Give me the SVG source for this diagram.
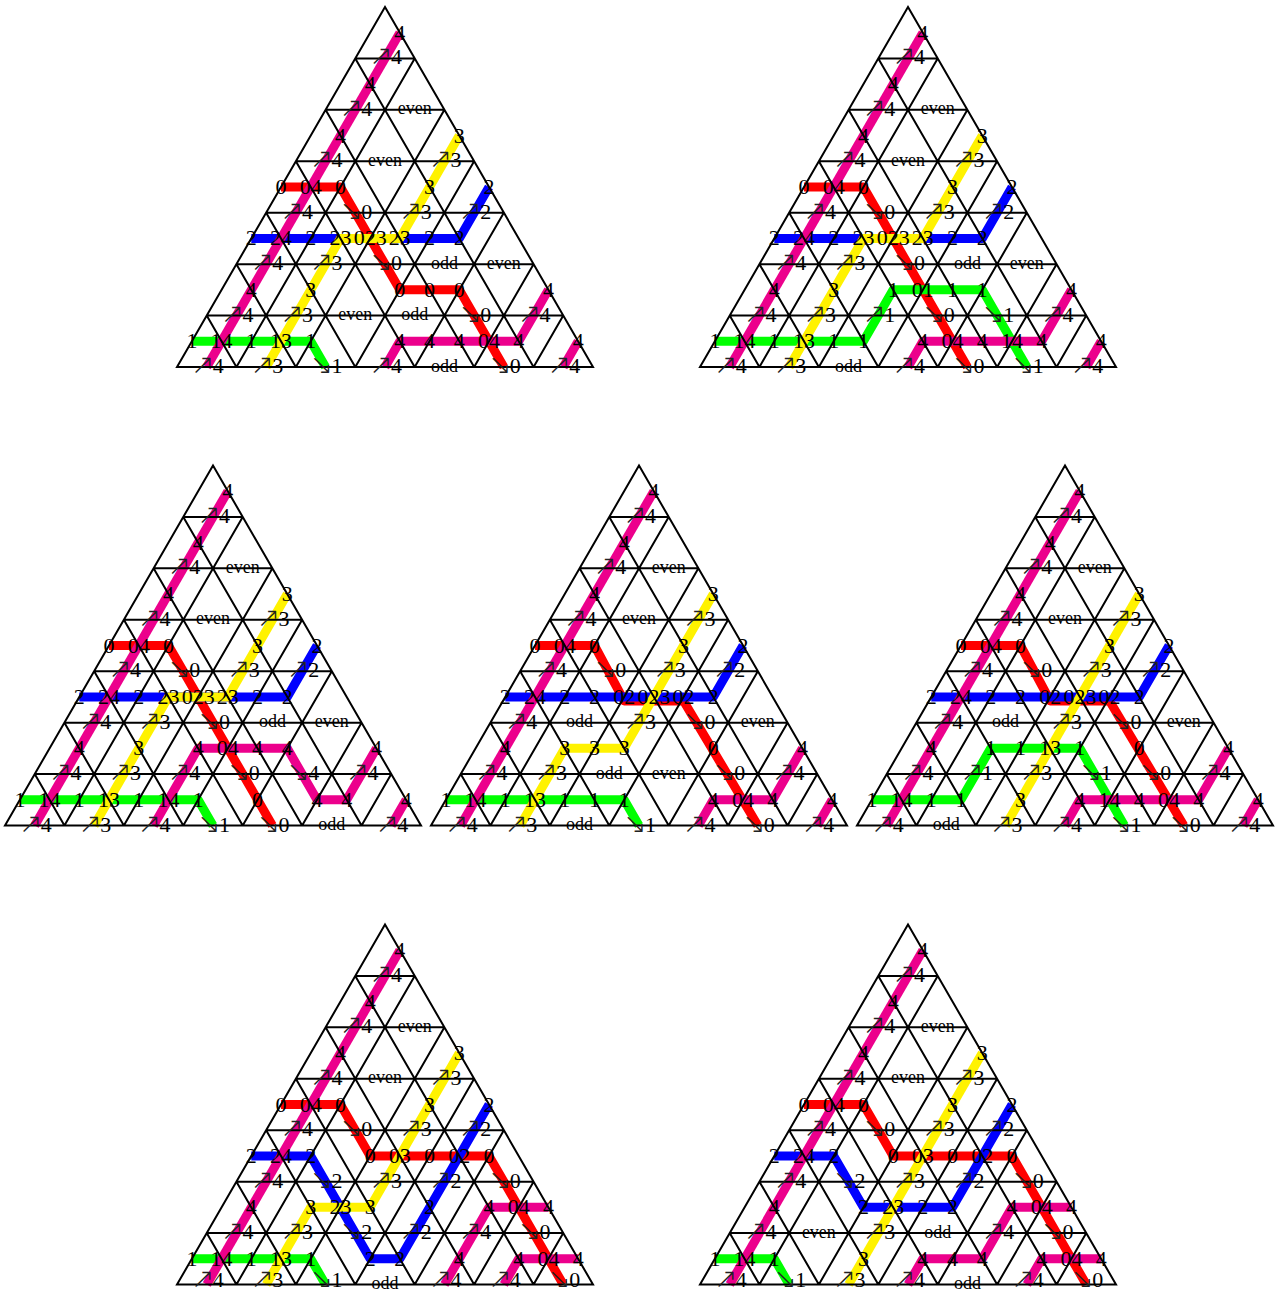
<svg xmlns="http://www.w3.org/2000/svg" xmlns:xlink="http://www.w3.org/1999/xlink" width="1279" height="1295" viewBox="0 0 1279 1295">
<style>
.g{fill:none;stroke:#000;stroke-width:2}
.p{fill:none;stroke-width:9;stroke-linejoin:round;stroke-linecap:butt}
.c0{stroke:#FF0000}.c1{stroke:#00FF00}.c2{stroke:#0000FF}.c3{stroke:#FFF200}.c4{stroke:#EC008C}
text{font-family:"Liberation Serif",serif;fill:#000}
.n{font-size:22px;text-anchor:middle}
.w{font-size:18px;text-anchor:middle}
.a{font-family:"DejaVu Sans",sans-serif;font-weight:200;font-size:28px;fill:#222;baseline-shift:-1px}
</style>
<defs>
<path id="grid" class="g" d="M-208 360L0 0L208 360Z M-29.71 51.43H29.71M-59.43 102.86H59.43M-89.14 154.29H89.14M-118.86 205.71H118.86M-148.57 257.14H148.57M-178.29 308.57H178.29 M29.71 51.43L-148.57 360M59.43 102.86L-89.14 360M89.14 154.29L-29.71 360M118.86 205.71L29.71 360M148.57 257.14L89.14 360M178.29 308.57L148.57 360 M-29.71 51.43L148.57 360M-59.43 102.86L89.14 360M-89.14 154.29L29.71 360M-118.86 205.71L-29.71 360M-148.57 257.14L-89.14 360M-178.29 308.57L-148.57 360"/>
</defs>

<!-- Triangle 1 -->
<g id="tri1" transform="translate(385,7)">
<g id="tri1-paths">
<polyline class="p c0" points="-104,180 -44.57,180 14.86,282.86 74.29,282.86 118.86,360"/>
<polyline class="p c1" points="-193.14,334.29 -74.29,334.29 -59.43,360"/>
<polyline class="p c2" points="104,180 74.29,231.43 -133.71,231.43"/>
<polyline class="p c3" points="74.29,128.57 14.86,231.43 -44.57,231.43 -118.86,360"/>
<polyline class="p c4" points="14.86,25.71 -178.29,360"/>
<polyline class="p c4" points="163.43,282.86 133.71,334.29 14.86,334.29 0,360"/>
<polyline class="p c4" points="193.14,334.29 178.29,360"/>
</g>
<use href="#grid"/>
<g id="tri1-labels">
<text class="n" x="14.86" y="32.71">4</text>
<text class="n" y="57.43"><tspan class="a" x="-4">↗</tspan><tspan x="11.5">4</tspan></text>
<text class="n" x="-14.86" y="84.14">4</text>
<text class="n" y="108.86"><tspan class="a" x="-33.71">↗</tspan><tspan x="-18.21">4</tspan></text>
<text class="w" x="29.71" y="107.36">even</text>
<text class="n" x="-44.57" y="135.57">4</text>
<text class="n" x="74.29" y="135.57">3</text>
<text class="n" y="160.29"><tspan class="a" x="-63.43">↗</tspan><tspan x="-47.93">4</tspan></text>
<text class="w" x="0" y="158.79">even</text>
<text class="n" y="160.29"><tspan class="a" x="55.43">↗</tspan><tspan x="70.93">3</tspan></text>
<text class="n" x="-104" y="187">0</text>
<text class="n" x="-74.29" y="187">04</text>
<text class="n" x="-44.57" y="187">0</text>
<text class="n" x="44.57" y="187">3</text>
<text class="n" x="104" y="187">2</text>
<text class="n" y="211.71"><tspan class="a" x="-93.14">↗</tspan><tspan x="-77.64">4</tspan></text>
<text class="n" y="211.71"><tspan class="a" x="-33.71">↘</tspan><tspan x="-18.21">0</tspan></text>
<text class="n" y="211.71"><tspan class="a" x="25.71">↗</tspan><tspan x="41.21">3</tspan></text>
<text class="n" y="211.71"><tspan class="a" x="85.14">↗</tspan><tspan x="100.64">2</tspan></text>
<text class="n" x="-133.71" y="238.43">2</text>
<text class="n" x="-104" y="238.43">24</text>
<text class="n" x="-74.29" y="238.43">2</text>
<text class="n" x="-44.57" y="238.43">23</text>
<text class="n" x="-14.86" y="238.43">023</text>
<text class="n" x="14.86" y="238.43">23</text>
<text class="n" x="44.57" y="238.43">2</text>
<text class="n" x="74.29" y="238.43">2</text>
<text class="n" y="263.14"><tspan class="a" x="-122.86">↗</tspan><tspan x="-107.36">4</tspan></text>
<text class="n" y="263.14"><tspan class="a" x="-63.43">↗</tspan><tspan x="-47.93">3</tspan></text>
<text class="n" y="263.14"><tspan class="a" x="-4">↘</tspan><tspan x="11.5">0</tspan></text>
<text class="w" x="59.43" y="261.64">odd</text>
<text class="w" x="118.86" y="261.64">even</text>
<text class="n" x="-133.71" y="289.86">4</text>
<text class="n" x="-74.29" y="289.86">3</text>
<text class="n" x="14.86" y="289.86">0</text>
<text class="n" x="44.57" y="289.86">0</text>
<text class="n" x="74.29" y="289.86">0</text>
<text class="n" x="163.43" y="289.86">4</text>
<text class="n" y="314.57"><tspan class="a" x="-152.57">↗</tspan><tspan x="-137.07">4</tspan></text>
<text class="n" y="314.57"><tspan class="a" x="-93.14">↗</tspan><tspan x="-77.64">3</tspan></text>
<text class="w" x="-29.71" y="313.07">even</text>
<text class="w" x="29.71" y="313.07">odd</text>
<text class="n" y="314.57"><tspan class="a" x="85.14">↘</tspan><tspan x="100.64">0</tspan></text>
<text class="n" y="314.57"><tspan class="a" x="144.57">↗</tspan><tspan x="160.07">4</tspan></text>
<text class="n" x="-193.14" y="341.29">1</text>
<text class="n" x="-163.43" y="341.29">14</text>
<text class="n" x="-133.71" y="341.29">1</text>
<text class="n" x="-104" y="341.29">13</text>
<text class="n" x="-74.29" y="341.29">1</text>
<text class="n" x="14.86" y="341.29">4</text>
<text class="n" x="44.57" y="341.29">4</text>
<text class="n" x="74.29" y="341.29">4</text>
<text class="n" x="104" y="341.29">04</text>
<text class="n" x="133.71" y="341.29">4</text>
<text class="n" x="193.14" y="341.29">4</text>
<text class="n" y="366"><tspan class="a" x="-182.29">↗</tspan><tspan x="-166.79">4</tspan></text>
<text class="n" y="366"><tspan class="a" x="-122.86">↗</tspan><tspan x="-107.36">3</tspan></text>
<text class="n" y="366"><tspan class="a" x="-63.43">↘</tspan><tspan x="-47.93">1</tspan></text>
<text class="n" y="366"><tspan class="a" x="-4">↗</tspan><tspan x="11.5">4</tspan></text>
<text class="w" x="59.43" y="364.5">odd</text>
<text class="n" y="366"><tspan class="a" x="114.86">↘</tspan><tspan x="130.36">0</tspan></text>
<text class="n" y="366"><tspan class="a" x="174.29">↗</tspan><tspan x="189.79">4</tspan></text>
</g>
</g>

<!-- Triangle 2 -->
<g id="tri2" transform="translate(908,7)">
<g id="tri2-paths">
<polyline class="p c0" points="-104,180 -44.57,180 59.43,360"/>
<polyline class="p c1" points="-193.14,334.29 -44.57,334.29 -14.86,282.86 74.29,282.86 118.86,360"/>
<polyline class="p c2" points="104,180 74.29,231.43 -133.71,231.43"/>
<polyline class="p c3" points="74.29,128.57 14.86,231.43 -44.57,231.43 -118.86,360"/>
<polyline class="p c4" points="14.86,25.71 -178.29,360"/>
<polyline class="p c4" points="163.43,282.86 133.71,334.29 14.86,334.29 0,360"/>
<polyline class="p c4" points="193.14,334.29 178.29,360"/>
</g>
<use href="#grid"/>
<g id="tri2-labels">
<text class="n" x="14.86" y="32.71">4</text>
<text class="n" y="57.43"><tspan class="a" x="-4">↗</tspan><tspan x="11.5">4</tspan></text>
<text class="n" x="-14.86" y="84.14">4</text>
<text class="n" y="108.86"><tspan class="a" x="-33.71">↗</tspan><tspan x="-18.21">4</tspan></text>
<text class="w" x="29.71" y="107.36">even</text>
<text class="n" x="-44.57" y="135.57">4</text>
<text class="n" x="74.29" y="135.57">3</text>
<text class="n" y="160.29"><tspan class="a" x="-63.43">↗</tspan><tspan x="-47.93">4</tspan></text>
<text class="w" x="0" y="158.79">even</text>
<text class="n" y="160.29"><tspan class="a" x="55.43">↗</tspan><tspan x="70.93">3</tspan></text>
<text class="n" x="-104" y="187">0</text>
<text class="n" x="-74.29" y="187">04</text>
<text class="n" x="-44.57" y="187">0</text>
<text class="n" x="44.57" y="187">3</text>
<text class="n" x="104" y="187">2</text>
<text class="n" y="211.71"><tspan class="a" x="-93.14">↗</tspan><tspan x="-77.64">4</tspan></text>
<text class="n" y="211.71"><tspan class="a" x="-33.71">↘</tspan><tspan x="-18.21">0</tspan></text>
<text class="n" y="211.71"><tspan class="a" x="25.71">↗</tspan><tspan x="41.21">3</tspan></text>
<text class="n" y="211.71"><tspan class="a" x="85.14">↗</tspan><tspan x="100.64">2</tspan></text>
<text class="n" x="-133.71" y="238.43">2</text>
<text class="n" x="-104" y="238.43">24</text>
<text class="n" x="-74.29" y="238.43">2</text>
<text class="n" x="-44.57" y="238.43">23</text>
<text class="n" x="-14.86" y="238.43">023</text>
<text class="n" x="14.86" y="238.43">23</text>
<text class="n" x="44.57" y="238.43">2</text>
<text class="n" x="74.29" y="238.43">2</text>
<text class="n" y="263.14"><tspan class="a" x="-122.86">↗</tspan><tspan x="-107.36">4</tspan></text>
<text class="n" y="263.14"><tspan class="a" x="-63.43">↗</tspan><tspan x="-47.93">3</tspan></text>
<text class="n" y="263.14"><tspan class="a" x="-4">↘</tspan><tspan x="11.5">0</tspan></text>
<text class="w" x="59.43" y="261.64">odd</text>
<text class="w" x="118.86" y="261.64">even</text>
<text class="n" x="-133.71" y="289.86">4</text>
<text class="n" x="-74.29" y="289.86">3</text>
<text class="n" x="-14.86" y="289.86">1</text>
<text class="n" x="14.86" y="289.86">01</text>
<text class="n" x="44.57" y="289.86">1</text>
<text class="n" x="74.29" y="289.86">1</text>
<text class="n" x="163.43" y="289.86">4</text>
<text class="n" y="314.57"><tspan class="a" x="-152.57">↗</tspan><tspan x="-137.07">4</tspan></text>
<text class="n" y="314.57"><tspan class="a" x="-93.14">↗</tspan><tspan x="-77.64">3</tspan></text>
<text class="n" y="314.57"><tspan class="a" x="-33.71">↗</tspan><tspan x="-18.21">1</tspan></text>
<text class="n" y="314.57"><tspan class="a" x="25.71">↘</tspan><tspan x="41.21">0</tspan></text>
<text class="n" y="314.57"><tspan class="a" x="85.14">↘</tspan><tspan x="100.64">1</tspan></text>
<text class="n" y="314.57"><tspan class="a" x="144.57">↗</tspan><tspan x="160.07">4</tspan></text>
<text class="n" x="-193.14" y="341.29">1</text>
<text class="n" x="-163.43" y="341.29">14</text>
<text class="n" x="-133.71" y="341.29">1</text>
<text class="n" x="-104" y="341.29">13</text>
<text class="n" x="-74.29" y="341.29">1</text>
<text class="n" x="-44.57" y="341.29">1</text>
<text class="n" x="14.86" y="341.29">4</text>
<text class="n" x="44.57" y="341.29">04</text>
<text class="n" x="74.29" y="341.29">4</text>
<text class="n" x="104" y="341.29">14</text>
<text class="n" x="133.71" y="341.29">4</text>
<text class="n" x="193.14" y="341.29">4</text>
<text class="n" y="366"><tspan class="a" x="-182.29">↗</tspan><tspan x="-166.79">4</tspan></text>
<text class="n" y="366"><tspan class="a" x="-122.86">↗</tspan><tspan x="-107.36">3</tspan></text>
<text class="w" x="-59.43" y="364.5">odd</text>
<text class="n" y="366"><tspan class="a" x="-4">↗</tspan><tspan x="11.5">4</tspan></text>
<text class="n" y="366"><tspan class="a" x="55.43">↘</tspan><tspan x="70.93">0</tspan></text>
<text class="n" y="366"><tspan class="a" x="114.86">↘</tspan><tspan x="130.36">1</tspan></text>
<text class="n" y="366"><tspan class="a" x="174.29">↗</tspan><tspan x="189.79">4</tspan></text>
</g>
</g>

<!-- Triangle 3 -->
<g id="tri3" transform="translate(213,465.5)">
<g id="tri3-paths">
<polyline class="p c0" points="-104,180 -44.57,180 59.43,360"/>
<polyline class="p c1" points="-193.14,334.29 -14.86,334.29 0,360"/>
<polyline class="p c2" points="104,180 74.29,231.43 -133.71,231.43"/>
<polyline class="p c3" points="74.29,128.57 14.86,231.43 -44.57,231.43 -118.86,360"/>
<polyline class="p c4" points="14.86,25.71 -178.29,360"/>
<polyline class="p c4" points="-59.43,360 -14.86,282.86 74.29,282.86 104,334.29 133.71,334.29 163.43,282.86"/>
<polyline class="p c4" points="193.14,334.29 178.29,360"/>
</g>
<use href="#grid"/>
<g id="tri3-labels">
<text class="n" x="14.86" y="32.71">4</text>
<text class="n" y="57.43"><tspan class="a" x="-4">↗</tspan><tspan x="11.5">4</tspan></text>
<text class="n" x="-14.86" y="84.14">4</text>
<text class="n" y="108.86"><tspan class="a" x="-33.71">↗</tspan><tspan x="-18.21">4</tspan></text>
<text class="w" x="29.71" y="107.36">even</text>
<text class="n" x="-44.57" y="135.57">4</text>
<text class="n" x="74.29" y="135.57">3</text>
<text class="n" y="160.29"><tspan class="a" x="-63.43">↗</tspan><tspan x="-47.93">4</tspan></text>
<text class="w" x="0" y="158.79">even</text>
<text class="n" y="160.29"><tspan class="a" x="55.43">↗</tspan><tspan x="70.93">3</tspan></text>
<text class="n" x="-104" y="187">0</text>
<text class="n" x="-74.29" y="187">04</text>
<text class="n" x="-44.57" y="187">0</text>
<text class="n" x="44.57" y="187">3</text>
<text class="n" x="104" y="187">2</text>
<text class="n" y="211.71"><tspan class="a" x="-93.14">↗</tspan><tspan x="-77.64">4</tspan></text>
<text class="n" y="211.71"><tspan class="a" x="-33.71">↘</tspan><tspan x="-18.21">0</tspan></text>
<text class="n" y="211.71"><tspan class="a" x="25.71">↗</tspan><tspan x="41.21">3</tspan></text>
<text class="n" y="211.71"><tspan class="a" x="85.14">↗</tspan><tspan x="100.64">2</tspan></text>
<text class="n" x="-133.71" y="238.43">2</text>
<text class="n" x="-104" y="238.43">24</text>
<text class="n" x="-74.29" y="238.43">2</text>
<text class="n" x="-44.57" y="238.43">23</text>
<text class="n" x="-14.86" y="238.43">023</text>
<text class="n" x="14.86" y="238.43">23</text>
<text class="n" x="44.57" y="238.43">2</text>
<text class="n" x="74.29" y="238.43">2</text>
<text class="n" y="263.14"><tspan class="a" x="-122.86">↗</tspan><tspan x="-107.36">4</tspan></text>
<text class="n" y="263.14"><tspan class="a" x="-63.43">↗</tspan><tspan x="-47.93">3</tspan></text>
<text class="n" y="263.14"><tspan class="a" x="-4">↘</tspan><tspan x="11.5">0</tspan></text>
<text class="w" x="59.43" y="261.64">odd</text>
<text class="w" x="118.86" y="261.64">even</text>
<text class="n" x="-133.71" y="289.86">4</text>
<text class="n" x="-74.29" y="289.86">3</text>
<text class="n" x="-14.86" y="289.86">4</text>
<text class="n" x="14.86" y="289.86">04</text>
<text class="n" x="44.57" y="289.86">4</text>
<text class="n" x="74.29" y="289.86">4</text>
<text class="n" x="163.43" y="289.86">4</text>
<text class="n" y="314.57"><tspan class="a" x="-152.57">↗</tspan><tspan x="-137.07">4</tspan></text>
<text class="n" y="314.57"><tspan class="a" x="-93.14">↗</tspan><tspan x="-77.64">3</tspan></text>
<text class="n" y="314.57"><tspan class="a" x="-33.71">↗</tspan><tspan x="-18.21">4</tspan></text>
<text class="n" y="314.57"><tspan class="a" x="25.71">↘</tspan><tspan x="41.21">0</tspan></text>
<text class="n" y="314.57"><tspan class="a" x="85.14">↘</tspan><tspan x="100.64">4</tspan></text>
<text class="n" y="314.57"><tspan class="a" x="144.57">↗</tspan><tspan x="160.07">4</tspan></text>
<text class="n" x="-193.14" y="341.29">1</text>
<text class="n" x="-163.43" y="341.29">14</text>
<text class="n" x="-133.71" y="341.29">1</text>
<text class="n" x="-104" y="341.29">13</text>
<text class="n" x="-74.29" y="341.29">1</text>
<text class="n" x="-44.57" y="341.29">14</text>
<text class="n" x="-14.86" y="341.29">1</text>
<text class="n" x="44.57" y="341.29">0</text>
<text class="n" x="104" y="341.29">4</text>
<text class="n" x="133.71" y="341.29">4</text>
<text class="n" x="193.14" y="341.29">4</text>
<text class="n" y="366"><tspan class="a" x="-182.29">↗</tspan><tspan x="-166.79">4</tspan></text>
<text class="n" y="366"><tspan class="a" x="-122.86">↗</tspan><tspan x="-107.36">3</tspan></text>
<text class="n" y="366"><tspan class="a" x="-63.43">↗</tspan><tspan x="-47.93">4</tspan></text>
<text class="n" y="366"><tspan class="a" x="-4">↘</tspan><tspan x="11.5">1</tspan></text>
<text class="n" y="366"><tspan class="a" x="55.43">↘</tspan><tspan x="70.93">0</tspan></text>
<text class="w" x="118.86" y="364.5">odd</text>
<text class="n" y="366"><tspan class="a" x="174.29">↗</tspan><tspan x="189.79">4</tspan></text>
</g>
</g>

<!-- Triangle 4 -->
<g id="tri4" transform="translate(639,465.5)">
<g id="tri4-paths">
<polyline class="p c0" points="-104,180 -44.57,180 -14.86,235.43 44.57,235.43 118.86,360"/>
<polyline class="p c1" points="-193.14,334.29 -14.86,334.29 0,360"/>
<polyline class="p c2" points="104,180 74.29,231.43 -133.71,231.43"/>
<polyline class="p c3" points="74.29,128.57 -14.86,282.86 -74.29,282.86 -118.86,360"/>
<polyline class="p c4" points="14.86,25.71 -178.29,360"/>
<polyline class="p c4" points="163.43,282.86 133.71,334.29 74.29,334.29 59.43,360"/>
<polyline class="p c4" points="193.14,334.29 178.29,360"/>
</g>
<use href="#grid"/>
<g id="tri4-labels">
<text class="n" x="14.86" y="32.71">4</text>
<text class="n" y="57.43"><tspan class="a" x="-4">↗</tspan><tspan x="11.5">4</tspan></text>
<text class="n" x="-14.86" y="84.14">4</text>
<text class="n" y="108.86"><tspan class="a" x="-33.71">↗</tspan><tspan x="-18.21">4</tspan></text>
<text class="w" x="29.71" y="107.36">even</text>
<text class="n" x="-44.57" y="135.57">4</text>
<text class="n" x="74.29" y="135.57">3</text>
<text class="n" y="160.29"><tspan class="a" x="-63.43">↗</tspan><tspan x="-47.93">4</tspan></text>
<text class="w" x="0" y="158.79">even</text>
<text class="n" y="160.29"><tspan class="a" x="55.43">↗</tspan><tspan x="70.93">3</tspan></text>
<text class="n" x="-104" y="187">0</text>
<text class="n" x="-74.29" y="187">04</text>
<text class="n" x="-44.57" y="187">0</text>
<text class="n" x="44.57" y="187">3</text>
<text class="n" x="104" y="187">2</text>
<text class="n" y="211.71"><tspan class="a" x="-93.14">↗</tspan><tspan x="-77.64">4</tspan></text>
<text class="n" y="211.71"><tspan class="a" x="-33.71">↘</tspan><tspan x="-18.21">0</tspan></text>
<text class="n" y="211.71"><tspan class="a" x="25.71">↗</tspan><tspan x="41.21">3</tspan></text>
<text class="n" y="211.71"><tspan class="a" x="85.14">↗</tspan><tspan x="100.64">2</tspan></text>
<text class="n" x="-133.71" y="238.43">2</text>
<text class="n" x="-104" y="238.43">24</text>
<text class="n" x="-74.29" y="238.43">2</text>
<text class="n" x="-44.57" y="238.43">2</text>
<text class="n" x="-14.86" y="238.43">02</text>
<text class="n" x="14.86" y="238.43">023</text>
<text class="n" x="44.57" y="238.43">02</text>
<text class="n" x="74.29" y="238.43">2</text>
<text class="n" y="263.14"><tspan class="a" x="-122.86">↗</tspan><tspan x="-107.36">4</tspan></text>
<text class="w" x="-59.43" y="261.64">odd</text>
<text class="n" y="263.14"><tspan class="a" x="-4">↗</tspan><tspan x="11.5">3</tspan></text>
<text class="n" y="263.14"><tspan class="a" x="55.43">↘</tspan><tspan x="70.93">0</tspan></text>
<text class="w" x="118.86" y="261.64">even</text>
<text class="n" x="-133.71" y="289.86">4</text>
<text class="n" x="-74.29" y="289.86">3</text>
<text class="n" x="-44.57" y="289.86">3</text>
<text class="n" x="-14.86" y="289.86">3</text>
<text class="n" x="74.29" y="289.86">0</text>
<text class="n" x="163.43" y="289.86">4</text>
<text class="n" y="314.57"><tspan class="a" x="-152.57">↗</tspan><tspan x="-137.07">4</tspan></text>
<text class="n" y="314.57"><tspan class="a" x="-93.14">↗</tspan><tspan x="-77.64">3</tspan></text>
<text class="w" x="-29.71" y="313.07">odd</text>
<text class="w" x="29.71" y="313.07">even</text>
<text class="n" y="314.57"><tspan class="a" x="85.14">↘</tspan><tspan x="100.64">0</tspan></text>
<text class="n" y="314.57"><tspan class="a" x="144.57">↗</tspan><tspan x="160.07">4</tspan></text>
<text class="n" x="-193.14" y="341.29">1</text>
<text class="n" x="-163.43" y="341.29">14</text>
<text class="n" x="-133.71" y="341.29">1</text>
<text class="n" x="-104" y="341.29">13</text>
<text class="n" x="-74.29" y="341.29">1</text>
<text class="n" x="-44.57" y="341.29">1</text>
<text class="n" x="-14.86" y="341.29">1</text>
<text class="n" x="74.29" y="341.29">4</text>
<text class="n" x="104" y="341.29">04</text>
<text class="n" x="133.71" y="341.29">4</text>
<text class="n" x="193.14" y="341.29">4</text>
<text class="n" y="366"><tspan class="a" x="-182.29">↗</tspan><tspan x="-166.79">4</tspan></text>
<text class="n" y="366"><tspan class="a" x="-122.86">↗</tspan><tspan x="-107.36">3</tspan></text>
<text class="w" x="-59.43" y="364.5">odd</text>
<text class="n" y="366"><tspan class="a" x="-4">↘</tspan><tspan x="11.5">1</tspan></text>
<text class="n" y="366"><tspan class="a" x="55.43">↗</tspan><tspan x="70.93">4</tspan></text>
<text class="n" y="366"><tspan class="a" x="114.86">↘</tspan><tspan x="130.36">0</tspan></text>
<text class="n" y="366"><tspan class="a" x="174.29">↗</tspan><tspan x="189.79">4</tspan></text>
</g>
</g>

<!-- Triangle 5 -->
<g id="tri5" transform="translate(1065,465.5)">
<g id="tri5-paths">
<polyline class="p c0" points="-104,180 -44.57,180 -14.86,235.43 44.57,235.43 118.86,360"/>
<polyline class="p c1" points="-193.14,334.29 -104,334.29 -74.29,282.86 14.86,282.86 59.43,360"/>
<polyline class="p c2" points="104,180 74.29,231.43 -133.71,231.43"/>
<polyline class="p c3" points="74.29,128.57 -59.43,360"/>
<polyline class="p c4" points="14.86,25.71 -178.29,360"/>
<polyline class="p c4" points="163.43,282.86 133.71,334.29 14.86,334.29 0,360"/>
<polyline class="p c4" points="193.14,334.29 178.29,360"/>
</g>
<use href="#grid"/>
<g id="tri5-labels">
<text class="n" x="14.86" y="32.71">4</text>
<text class="n" y="57.43"><tspan class="a" x="-4">↗</tspan><tspan x="11.5">4</tspan></text>
<text class="n" x="-14.86" y="84.14">4</text>
<text class="n" y="108.86"><tspan class="a" x="-33.71">↗</tspan><tspan x="-18.21">4</tspan></text>
<text class="w" x="29.71" y="107.36">even</text>
<text class="n" x="-44.57" y="135.57">4</text>
<text class="n" x="74.29" y="135.57">3</text>
<text class="n" y="160.29"><tspan class="a" x="-63.43">↗</tspan><tspan x="-47.93">4</tspan></text>
<text class="w" x="0" y="158.79">even</text>
<text class="n" y="160.29"><tspan class="a" x="55.43">↗</tspan><tspan x="70.93">3</tspan></text>
<text class="n" x="-104" y="187">0</text>
<text class="n" x="-74.29" y="187">04</text>
<text class="n" x="-44.57" y="187">0</text>
<text class="n" x="44.57" y="187">3</text>
<text class="n" x="104" y="187">2</text>
<text class="n" y="211.71"><tspan class="a" x="-93.14">↗</tspan><tspan x="-77.64">4</tspan></text>
<text class="n" y="211.71"><tspan class="a" x="-33.71">↘</tspan><tspan x="-18.21">0</tspan></text>
<text class="n" y="211.71"><tspan class="a" x="25.71">↗</tspan><tspan x="41.21">3</tspan></text>
<text class="n" y="211.71"><tspan class="a" x="85.14">↗</tspan><tspan x="100.64">2</tspan></text>
<text class="n" x="-133.71" y="238.43">2</text>
<text class="n" x="-104" y="238.43">24</text>
<text class="n" x="-74.29" y="238.43">2</text>
<text class="n" x="-44.57" y="238.43">2</text>
<text class="n" x="-14.86" y="238.43">02</text>
<text class="n" x="14.86" y="238.43">023</text>
<text class="n" x="44.57" y="238.43">02</text>
<text class="n" x="74.29" y="238.43">2</text>
<text class="n" y="263.14"><tspan class="a" x="-122.86">↗</tspan><tspan x="-107.36">4</tspan></text>
<text class="w" x="-59.43" y="261.64">odd</text>
<text class="n" y="263.14"><tspan class="a" x="-4">↗</tspan><tspan x="11.5">3</tspan></text>
<text class="n" y="263.14"><tspan class="a" x="55.43">↘</tspan><tspan x="70.93">0</tspan></text>
<text class="w" x="118.86" y="261.64">even</text>
<text class="n" x="-133.71" y="289.86">4</text>
<text class="n" x="-74.29" y="289.86">1</text>
<text class="n" x="-44.57" y="289.86">1</text>
<text class="n" x="-14.86" y="289.86">13</text>
<text class="n" x="14.86" y="289.86">1</text>
<text class="n" x="74.29" y="289.86">0</text>
<text class="n" x="163.43" y="289.86">4</text>
<text class="n" y="314.57"><tspan class="a" x="-152.57">↗</tspan><tspan x="-137.07">4</tspan></text>
<text class="n" y="314.57"><tspan class="a" x="-93.14">↗</tspan><tspan x="-77.64">1</tspan></text>
<text class="n" y="314.57"><tspan class="a" x="-33.71">↗</tspan><tspan x="-18.21">3</tspan></text>
<text class="n" y="314.57"><tspan class="a" x="25.71">↘</tspan><tspan x="41.21">1</tspan></text>
<text class="n" y="314.57"><tspan class="a" x="85.14">↘</tspan><tspan x="100.64">0</tspan></text>
<text class="n" y="314.57"><tspan class="a" x="144.57">↗</tspan><tspan x="160.07">4</tspan></text>
<text class="n" x="-193.14" y="341.29">1</text>
<text class="n" x="-163.43" y="341.29">14</text>
<text class="n" x="-133.71" y="341.29">1</text>
<text class="n" x="-104" y="341.29">1</text>
<text class="n" x="-44.57" y="341.29">3</text>
<text class="n" x="14.86" y="341.29">4</text>
<text class="n" x="44.57" y="341.29">14</text>
<text class="n" x="74.29" y="341.29">4</text>
<text class="n" x="104" y="341.29">04</text>
<text class="n" x="133.71" y="341.29">4</text>
<text class="n" x="193.14" y="341.29">4</text>
<text class="n" y="366"><tspan class="a" x="-182.29">↗</tspan><tspan x="-166.79">4</tspan></text>
<text class="w" x="-118.86" y="364.5">odd</text>
<text class="n" y="366"><tspan class="a" x="-63.43">↗</tspan><tspan x="-47.93">3</tspan></text>
<text class="n" y="366"><tspan class="a" x="-4">↗</tspan><tspan x="11.5">4</tspan></text>
<text class="n" y="366"><tspan class="a" x="55.43">↘</tspan><tspan x="70.93">1</tspan></text>
<text class="n" y="366"><tspan class="a" x="114.86">↘</tspan><tspan x="130.36">0</tspan></text>
<text class="n" y="366"><tspan class="a" x="174.29">↗</tspan><tspan x="189.79">4</tspan></text>
</g>
</g>

<!-- Triangle 6 -->
<g id="tri6" transform="translate(385,924.5)">
<g id="tri6-paths">
<polyline class="p c0" points="-104,180 -44.57,180 -14.86,231.43 104,231.43 178.29,360"/>
<polyline class="p c1" points="-193.14,334.29 -74.29,334.29 -59.43,360"/>
<polyline class="p c2" points="104,180 14.86,334.29 -14.86,334.29 -74.29,231.43 -133.71,231.43"/>
<polyline class="p c3" points="74.29,128.57 -14.86,282.86 -74.29,282.86 -118.86,360"/>
<polyline class="p c4" points="14.86,25.71 -178.29,360"/>
<polyline class="p c4" points="163.43,282.86 104,282.86 59.43,360"/>
<polyline class="p c4" points="193.14,334.29 133.71,334.29 118.86,360"/>
</g>
<use href="#grid"/>
<g id="tri6-labels">
<text class="n" x="14.86" y="32.71">4</text>
<text class="n" y="57.43"><tspan class="a" x="-4">↗</tspan><tspan x="11.5">4</tspan></text>
<text class="n" x="-14.86" y="84.14">4</text>
<text class="n" y="108.86"><tspan class="a" x="-33.71">↗</tspan><tspan x="-18.21">4</tspan></text>
<text class="w" x="29.71" y="107.36">even</text>
<text class="n" x="-44.57" y="135.57">4</text>
<text class="n" x="74.29" y="135.57">3</text>
<text class="n" y="160.29"><tspan class="a" x="-63.43">↗</tspan><tspan x="-47.93">4</tspan></text>
<text class="w" x="0" y="158.79">even</text>
<text class="n" y="160.29"><tspan class="a" x="55.43">↗</tspan><tspan x="70.93">3</tspan></text>
<text class="n" x="-104" y="187">0</text>
<text class="n" x="-74.29" y="187">04</text>
<text class="n" x="-44.57" y="187">0</text>
<text class="n" x="44.57" y="187">3</text>
<text class="n" x="104" y="187">2</text>
<text class="n" y="211.71"><tspan class="a" x="-93.14">↗</tspan><tspan x="-77.64">4</tspan></text>
<text class="n" y="211.71"><tspan class="a" x="-33.71">↘</tspan><tspan x="-18.21">0</tspan></text>
<text class="n" y="211.71"><tspan class="a" x="25.71">↗</tspan><tspan x="41.21">3</tspan></text>
<text class="n" y="211.71"><tspan class="a" x="85.14">↗</tspan><tspan x="100.64">2</tspan></text>
<text class="n" x="-133.71" y="238.43">2</text>
<text class="n" x="-104" y="238.43">24</text>
<text class="n" x="-74.29" y="238.43">2</text>
<text class="n" x="-14.86" y="238.43">0</text>
<text class="n" x="14.86" y="238.43">03</text>
<text class="n" x="44.57" y="238.43">0</text>
<text class="n" x="74.29" y="238.43">02</text>
<text class="n" x="104" y="238.43">0</text>
<text class="n" y="263.14"><tspan class="a" x="-122.86">↗</tspan><tspan x="-107.36">4</tspan></text>
<text class="n" y="263.14"><tspan class="a" x="-63.43">↘</tspan><tspan x="-47.93">2</tspan></text>
<text class="n" y="263.14"><tspan class="a" x="-4">↗</tspan><tspan x="11.5">3</tspan></text>
<text class="n" y="263.14"><tspan class="a" x="55.43">↗</tspan><tspan x="70.93">2</tspan></text>
<text class="n" y="263.14"><tspan class="a" x="114.86">↘</tspan><tspan x="130.36">0</tspan></text>
<text class="n" x="-133.71" y="289.86">4</text>
<text class="n" x="-74.29" y="289.86">3</text>
<text class="n" x="-44.57" y="289.86">23</text>
<text class="n" x="-14.86" y="289.86">3</text>
<text class="n" x="44.57" y="289.86">2</text>
<text class="n" x="104" y="289.86">4</text>
<text class="n" x="133.71" y="289.86">04</text>
<text class="n" x="163.43" y="289.86">4</text>
<text class="n" y="314.57"><tspan class="a" x="-152.57">↗</tspan><tspan x="-137.07">4</tspan></text>
<text class="n" y="314.57"><tspan class="a" x="-93.14">↗</tspan><tspan x="-77.64">3</tspan></text>
<text class="n" y="314.57"><tspan class="a" x="-33.71">↘</tspan><tspan x="-18.21">2</tspan></text>
<text class="n" y="314.57"><tspan class="a" x="25.71">↗</tspan><tspan x="41.21">2</tspan></text>
<text class="n" y="314.57"><tspan class="a" x="85.14">↗</tspan><tspan x="100.64">4</tspan></text>
<text class="n" y="314.57"><tspan class="a" x="144.57">↘</tspan><tspan x="160.07">0</tspan></text>
<text class="n" x="-193.14" y="341.29">1</text>
<text class="n" x="-163.43" y="341.29">14</text>
<text class="n" x="-133.71" y="341.29">1</text>
<text class="n" x="-104" y="341.29">13</text>
<text class="n" x="-74.29" y="341.29">1</text>
<text class="n" x="-14.86" y="341.29">2</text>
<text class="n" x="14.86" y="341.29">2</text>
<text class="n" x="74.29" y="341.29">4</text>
<text class="n" x="133.71" y="341.29">4</text>
<text class="n" x="163.43" y="341.29">04</text>
<text class="n" x="193.14" y="341.29">4</text>
<text class="n" y="362.5"><tspan class="a" x="-182.29">↗</tspan><tspan x="-166.79">4</tspan></text>
<text class="n" y="362.5"><tspan class="a" x="-122.86">↗</tspan><tspan x="-107.36">3</tspan></text>
<text class="n" y="362.5"><tspan class="a" x="-63.43">↘</tspan><tspan x="-47.93">1</tspan></text>
<text class="w" x="0" y="364.5">odd</text>
<text class="n" y="362.5"><tspan class="a" x="55.43">↗</tspan><tspan x="70.93">4</tspan></text>
<text class="n" y="362.5"><tspan class="a" x="114.86">↗</tspan><tspan x="130.36">4</tspan></text>
<text class="n" y="362.5"><tspan class="a" x="174.29">↘</tspan><tspan x="189.79">0</tspan></text>
</g>
</g>

<!-- Triangle 7 -->
<g id="tri7" transform="translate(908,924.5)">
<g id="tri7-paths">
<polyline class="p c0" points="-104,180 -44.57,180 -14.86,231.43 104,231.43 178.29,360"/>
<polyline class="p c1" points="-193.14,334.29 -133.71,334.29 -118.86,360"/>
<polyline class="p c2" points="104,180 44.57,282.86 -44.57,282.86 -74.29,231.43 -133.71,231.43"/>
<polyline class="p c3" points="74.29,128.57 -59.43,360"/>
<polyline class="p c4" points="14.86,25.71 -178.29,360"/>
<polyline class="p c4" points="163.43,282.86 104,282.86 74.29,334.29 14.86,334.29 0,360"/>
<polyline class="p c4" points="193.14,334.29 133.71,334.29 118.86,360"/>
</g>
<use href="#grid"/>
<g id="tri7-labels">
<text class="n" x="14.86" y="32.71">4</text>
<text class="n" y="57.43"><tspan class="a" x="-4">↗</tspan><tspan x="11.5">4</tspan></text>
<text class="n" x="-14.86" y="84.14">4</text>
<text class="n" y="108.86"><tspan class="a" x="-33.71">↗</tspan><tspan x="-18.21">4</tspan></text>
<text class="w" x="29.71" y="107.36">even</text>
<text class="n" x="-44.57" y="135.57">4</text>
<text class="n" x="74.29" y="135.57">3</text>
<text class="n" y="160.29"><tspan class="a" x="-63.43">↗</tspan><tspan x="-47.93">4</tspan></text>
<text class="w" x="0" y="158.79">even</text>
<text class="n" y="160.29"><tspan class="a" x="55.43">↗</tspan><tspan x="70.93">3</tspan></text>
<text class="n" x="-104" y="187">0</text>
<text class="n" x="-74.29" y="187">04</text>
<text class="n" x="-44.57" y="187">0</text>
<text class="n" x="44.57" y="187">3</text>
<text class="n" x="104" y="187">2</text>
<text class="n" y="211.71"><tspan class="a" x="-93.14">↗</tspan><tspan x="-77.64">4</tspan></text>
<text class="n" y="211.71"><tspan class="a" x="-33.71">↘</tspan><tspan x="-18.21">0</tspan></text>
<text class="n" y="211.71"><tspan class="a" x="25.71">↗</tspan><tspan x="41.21">3</tspan></text>
<text class="n" y="211.71"><tspan class="a" x="85.14">↗</tspan><tspan x="100.64">2</tspan></text>
<text class="n" x="-133.71" y="238.43">2</text>
<text class="n" x="-104" y="238.43">24</text>
<text class="n" x="-74.29" y="238.43">2</text>
<text class="n" x="-14.86" y="238.43">0</text>
<text class="n" x="14.86" y="238.43">03</text>
<text class="n" x="44.57" y="238.43">0</text>
<text class="n" x="74.29" y="238.43">02</text>
<text class="n" x="104" y="238.43">0</text>
<text class="n" y="263.14"><tspan class="a" x="-122.86">↗</tspan><tspan x="-107.36">4</tspan></text>
<text class="n" y="263.14"><tspan class="a" x="-63.43">↘</tspan><tspan x="-47.93">2</tspan></text>
<text class="n" y="263.14"><tspan class="a" x="-4">↗</tspan><tspan x="11.5">3</tspan></text>
<text class="n" y="263.14"><tspan class="a" x="55.43">↗</tspan><tspan x="70.93">2</tspan></text>
<text class="n" y="263.14"><tspan class="a" x="114.86">↘</tspan><tspan x="130.36">0</tspan></text>
<text class="n" x="-133.71" y="289.86">4</text>
<text class="n" x="-44.57" y="289.86">2</text>
<text class="n" x="-14.86" y="289.86">23</text>
<text class="n" x="14.86" y="289.86">2</text>
<text class="n" x="44.57" y="289.86">2</text>
<text class="n" x="104" y="289.86">4</text>
<text class="n" x="133.71" y="289.86">04</text>
<text class="n" x="163.43" y="289.86">4</text>
<text class="n" y="314.57"><tspan class="a" x="-152.57">↗</tspan><tspan x="-137.07">4</tspan></text>
<text class="w" x="-89.14" y="313.07">even</text>
<text class="n" y="314.57"><tspan class="a" x="-33.71">↗</tspan><tspan x="-18.21">3</tspan></text>
<text class="w" x="29.71" y="313.07">odd</text>
<text class="n" y="314.57"><tspan class="a" x="85.14">↗</tspan><tspan x="100.64">4</tspan></text>
<text class="n" y="314.57"><tspan class="a" x="144.57">↘</tspan><tspan x="160.07">0</tspan></text>
<text class="n" x="-193.14" y="341.29">1</text>
<text class="n" x="-163.43" y="341.29">14</text>
<text class="n" x="-133.71" y="341.29">1</text>
<text class="n" x="-44.57" y="341.29">3</text>
<text class="n" x="14.86" y="341.29">4</text>
<text class="n" x="44.57" y="341.29">4</text>
<text class="n" x="74.29" y="341.29">4</text>
<text class="n" x="133.71" y="341.29">4</text>
<text class="n" x="163.43" y="341.29">04</text>
<text class="n" x="193.14" y="341.29">4</text>
<text class="n" y="362.5"><tspan class="a" x="-182.29">↗</tspan><tspan x="-166.79">4</tspan></text>
<text class="n" y="362.5"><tspan class="a" x="-122.86">↘</tspan><tspan x="-107.36">1</tspan></text>
<text class="n" y="362.5"><tspan class="a" x="-63.43">↗</tspan><tspan x="-47.93">3</tspan></text>
<text class="n" y="362.5"><tspan class="a" x="-4">↗</tspan><tspan x="11.5">4</tspan></text>
<text class="w" x="59.43" y="364.5">odd</text>
<text class="n" y="362.5"><tspan class="a" x="114.86">↗</tspan><tspan x="130.36">4</tspan></text>
<text class="n" y="362.5"><tspan class="a" x="174.29">↘</tspan><tspan x="189.79">0</tspan></text>
</g>
</g>
</svg>
